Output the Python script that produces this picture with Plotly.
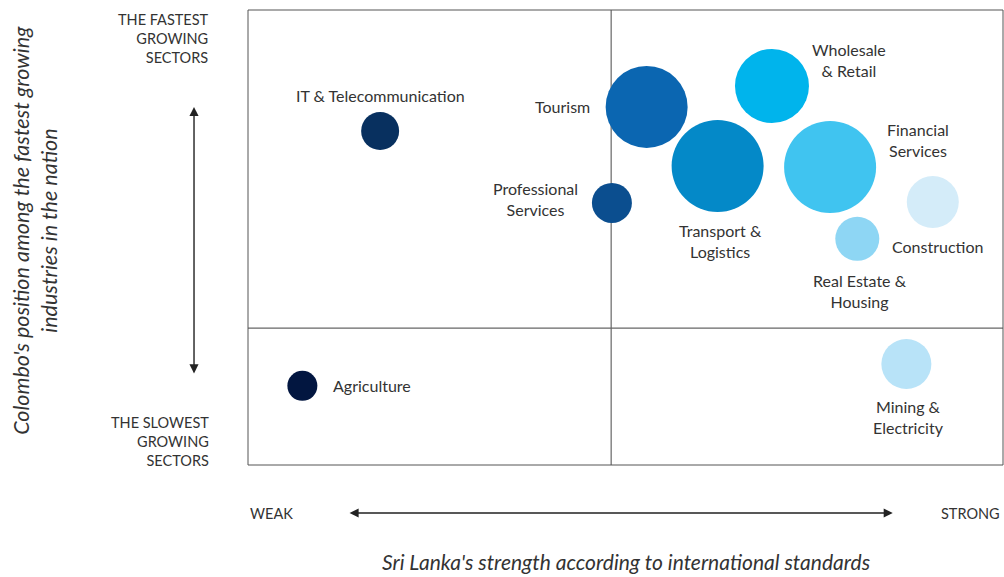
import plotly.graph_objects as go

# ---- data ----
sectors = ["IT & Telecommunication", "Agriculture", "Tourism", "Professional<br>Services",
           "Transport &<br>Logistics", "Wholesale<br>& Retail", "Financial<br>Services",
           "Construction", "Real Estate &<br>Housing", "Mining &<br>Electricity"]
strength = [17.5, 7.2, 52.8, 48.2, 62.2, 69.4, 77.1, 90.7, 80.7, 87.2]      # x: Sri Lanka's strength
growth = [73.4, 17.4, 78.7, 57.6, 65.7, 83.3, 65.5, 57.8, 49.7, 22.2]       # y: Colombo's position
bubble_size = [38, 30, 82, 40, 92, 74, 92, 52, 44, 50]
colors = ["#08305f", "#021640", "#0b66b1", "#0b4e8f", "#0489c8", "#00b4ec",
          "#40c4f0", "#d4ecf9", "#8ed6f4", "#b8e3f8"]
x_split = 48.1
y_split = 30.1

# label placement (pixel offsets from bubble centre)
lab_dx = [0, 29, -55, -76, 3, 77, 88, 5, 3, 2]
lab_dy = [36, 0, 0, 4, -75, 26, 27, -44, -52, -53]
lab_anchor = ["center", "left", "right", "center", "center", "center", "center", "center", "center", "center"]

FONT = "Lato"
TXT = "#333333"

fig = go.Figure()
fig.add_trace(go.Scatter(
    x=strength, y=growth, mode="markers",
    marker=dict(size=bubble_size, sizemode="diameter", color=colors, opacity=1,
                line=dict(width=0)),
    hoverinfo="text", hovertext=sectors, showlegend=False))

annotations = []
for name, xv, yv, dx, dy, anc in zip(sectors, strength, growth, lab_dx, lab_dy, lab_anchor):
    annotations.append(dict(x=xv, y=yv, xref="x", yref="y", text=name, showarrow=False,
                            xshift=dx, yshift=dy, xanchor=anc, yanchor="middle", align="center",
                            font=dict(family=FONT, size=16, color=TXT)))

# side labels
annotations += [
    dict(x=-0.049, y=0.938, xref="paper", yref="paper", text="THE FASTEST<br>GROWING<br>SECTORS",
         showarrow=False, xanchor="right", yanchor="middle", align="right",
         font=dict(family=FONT, size=14.5, color=TXT)),
    dict(x=-0.049, y=0.052, xref="paper", yref="paper", text="THE SLOWEST<br>GROWING<br>SECTORS",
         showarrow=False, xanchor="right", yanchor="middle", align="right",
         font=dict(family=FONT, size=14.5, color=TXT)),
    dict(x=0, y=-0.1055, xref="paper", yref="paper", text="WEAK", showarrow=False,
         xanchor="left", yanchor="middle", font=dict(family=FONT, size=14.5, color=TXT)),
    dict(x=0.9987, y=-0.1055, xref="paper", yref="paper", text="STRONG", showarrow=False,
         xanchor="right", yanchor="middle", font=dict(family=FONT, size=14.5, color=TXT)),
    dict(x=0.5007, y=-0.211, xref="paper", yref="paper",
         text="<i>Sri Lanka's strength according to international standards</i>", showarrow=False,
         xanchor="center", yanchor="middle", font=dict(family=FONT, size=21, color=TXT)),
    dict(x=-0.282, y=0.515, xref="paper", yref="paper", textangle=-90,
         text="<i>Colombo's position among the fastest growing<br>industries in the nation</i>",
         showarrow=False, xanchor="center", yanchor="middle", align="center",
         font=dict(family=FONT, size=21.5, color=TXT)),
    # arrows
    dict(x=-0.0715, y=0.787, ax=-0.0715, ay=0.198, xref="x domain", yref="y domain",
         axref="x domain", ayref="y domain", showarrow=True, arrowhead=2, arrowside="end+start",
         arrowsize=1.3, arrowwidth=1.4, arrowcolor="#222222", text=""),
    dict(x=0.854, y=-0.1055, ax=0.1325, ay=-0.1055, xref="x domain", yref="y domain",
         axref="x domain", ayref="y domain", showarrow=True, arrowhead=2, arrowside="end+start",
         arrowsize=1.3, arrowwidth=1.4, arrowcolor="#222222", text=""),
]

shapes = [
    dict(type="line", x0=x_split, x1=x_split, y0=0, y1=1, xref="x", yref="y domain",
         line=dict(color="#666666", width=1.2), layer="below"),
    dict(type="line", x0=0, x1=1, y0=y_split, y1=y_split, xref="x domain", yref="y",
         line=dict(color="#666666", width=1.2), layer="below"),
    dict(type="rect", x0=0, x1=1, y0=0, y1=1, xref="x domain", yref="y domain",
         line=dict(color="#555555", width=1), layer="below"),
]

fig.update_layout(
    width=1004, height=577,
    margin=dict(l=248, r=1, t=10, b=112),
    paper_bgcolor="white", plot_bgcolor="white",
    xaxis=dict(range=[0, 100], showgrid=False, zeroline=False, showticklabels=False, ticks=""),
    yaxis=dict(range=[0, 100], showgrid=False, zeroline=False, showticklabels=False, ticks=""),
    annotations=annotations, shapes=shapes,
    font=dict(family=FONT, color=TXT),
)

fig.write_html("out.html", config={"displayModeBar": False},
               post_script="document.body.style.margin='0';")
